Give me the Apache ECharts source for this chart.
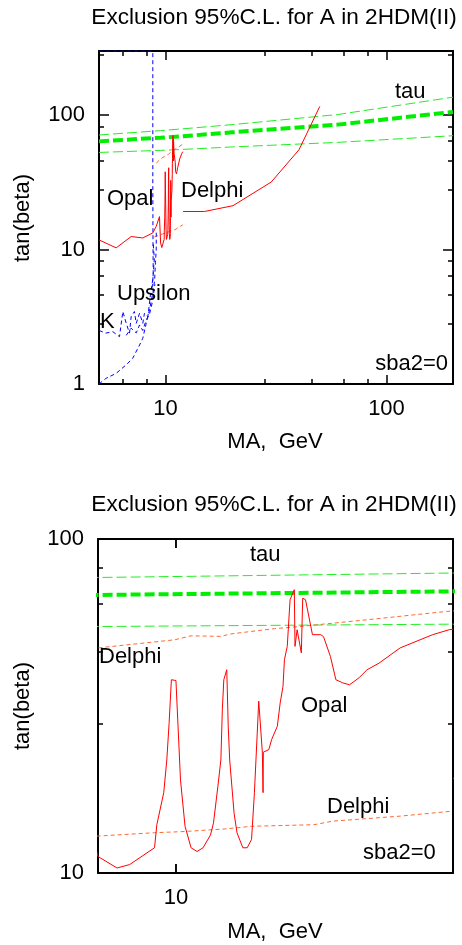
<!DOCTYPE html>
<html><head><meta charset="utf-8">
<script src="https://cdn.jsdelivr.net/npm/echarts@6/dist/echarts.min.js"></script>
<style>html,body{margin:0;padding:0;background:#fff}#c{width:462px;height:945px}</style>
</head><body><div id="c"></div>
<script>
// ---- data (MA in GeV, tan(beta)) ----
const tauUpper   = [[5,71.2],[9.5,76.7],[12,79.1],[20,85],[60,101],[200,136]];
const tauCentral = [[5,63.8],[9.5,68],[12,69.7],[20,74.5],[60,85],[200,105.6]];
const tauLower   = [[5,52.8],[9.5,54.7],[12,55.6],[20,58],[60,62.7],[200,70.3]];

const opal = [[5,11.8],[5.98,10.3],[6.99,12.5],[7.89,12.2],[8.76,13.3],[9.08,14.9],[9.39,17.6],
  [9.5,11.2],[9.62,10.35],[9.70,10.6],[9.86,11.9],[9.875,13.95],[9.92,17.4],[9.94,21.8],[9.955,28],
  [9.97,37.9],[9.98,38.4],[10.0,37.7],[10.03,19.0],[10.06,13.8],[10.1,11.9],[10.14,11.6],[10.18,11.9],
  [10.23,13.0],[10.25,14.1],[10.28,18.2],[10.3,21.8],[10.31,30.8],[10.32,37.9],[10.34,40.6],[10.35,27.5],
  [10.36,21.8],[10.39,15.1],[10.41,13.2],[10.45,11.9],[10.48,11.9],[10.51,12.6],[10.53,17.4],[10.56,32.7],
  [10.585,23],[10.59,17.4],[10.592,23],[10.63,23.4],[10.65,25.1],[10.69,27.5],[10.71,32.3],[10.73,36.2],
  [10.74,43.5],[10.76,47.7],[10.78,65.8],[10.81,70.5],[10.815,47.7],[10.83,53.5],[10.86,45.6],[10.87,66.5],
  [10.89,65.8],[10.94,51.7],[11.0,51.7],[11.02,51.0],[11.07,44.5],[11.11,37.9],[11.16,37.1],[11.21,36.6],
  [11.28,38.4],[11.34,40.6],[11.43,42.5],[11.59,47.2],[11.84,51.7],[11.97,53.5],[12.0,53.7]];

const delphiSolid = [[12,19.2],[15,19.2],[20.2,21.2],[30.1,31.8],[40.2,55.3],[49.9,116]];
const delphiUpper = [[9.08,44],[9.5,47.2],[9.99,49.9],[10.1,51.3],[10.3,51.1],[10.37,52],[10.67,53.9],
  [10.85,54.7],[11.34,57.3],[11.95,60.7],[12.05,61.1]];
const delphiLower = [[8.9,12.4],[9.5,12.9],[9.86,13.2],[10.04,13.3],[10.33,13.55],[10.51,13.8],[10.95,13.95],
  [11.09,14.3],[11.59,14.8],[11.98,15.3]];

const upsilonVertical = [[5,300],[8.76,300],[8.76,30],[8.78,10],[8.8,6.5],[8.7,5.2]];
const upsilonEnvelope = [[5,1.0],[5.37,1.1],[5.98,1.2],[6.64,1.39],[7.1,1.55],[7.63,1.95],[7.89,2.19],
  [8.18,2.83],[8.46,3.56],[8.76,4.74],[8.93,5.95],[9.0,8],[9.08,10],[9.08,14]];
const kaonA = [[5.0,2.5],[5.37,2.39],[5.77,2.45],[6.19,2.25],[6.41,3.46],[6.64,2.83],[6.87,2.39],[6.99,3.17],
  [7.23,3.46],[7.37,2.83],[7.63,3.36],[7.89,2.83],[8.03,3.36],[8.32,3.17],[8.46,4.0],[8.6,5.0],[8.76,6.0],
  [8.9,8.5],[8.8,11]];
const kaonB = [[6.64,2.3],[6.99,2.6],[7.37,2.4],[7.63,2.75],[7.89,2.5],[8.18,3.0],[8.46,3.3],[8.76,4.2],[8.95,5.5]];

// ---- axis ranges and tick labels ----
const topXRange = [5, 200];
const topYRange = [1, 300];
const botXRange = [9.5, 12];
const botYRange = [10, 100];
const topXLabels = [10, 100];
const topYLabels = [1, 10, 100];
const botXLabels = [10];
const botYLabels = [10, 100];
const botXTicks = [10];

const FONT = "'Liberation Sans', Arial, Helvetica, sans-serif";
const FS = 22;

function axisPair(kind, grid, range, labels, minor) {
  const pos = kind === 'x' ? ['bottom','top'] : ['left','right'];
  return pos.map((p, i) => ({
    type:'log', logBase:10, gridIndex:grid, min:range[0], max:range[1], position:p,
    splitLine:{show:false},
    axisLine:{show:true, onZero:false, lineStyle:{color:'#000', width:2}},
    axisTick:{show:true, inside:true, length: kind==='x'?9:10, lineStyle:{color:'#000', width:1.5}},
    minorTick:{show:minor, length:5, lineStyle:{color:'#000', width:1.5}},
    axisLabel:{show: i === 0, customValues: labels, margin:14, color:'#000', fontSize:FS, fontFamily:FONT}
  }));
}

const styles = {
  tauThin: {color:'#22ee22', width:1, type:[10,4]},
  tauThick:{color:'#00ee00', width:4, type:[10,4]},
  red:     {color:'#ff0000', width:1},
  orange:  {color:'#ff6a33', width:1, type:[4,3]},
  blue:    {color:'#0000ff', width:1, type:[4,3]}
};
const layers = [
  [tauUpper,'tauThin'],[tauCentral,'tauThick'],[tauLower,'tauThin'],
  [delphiUpper,'orange'],[delphiLower,'orange'],
  [upsilonVertical,'blue'],[upsilonEnvelope,'blue'],[kaonA,'blue'],[kaonB,'blue'],
  [opal,'red'],[delphiSolid,'red']
];
const series = [];
[0,1].forEach(g => {
  layers.forEach(([d, s]) => series.push({
    type:'line', data:d, xAxisIndex:g*2, yAxisIndex:g*2, showSymbol:false, symbol:'none',
    clip:true, silent:true, lineStyle:styles[s], z:3
  }));
});

function txt(t, x, y, align, rot, size) {
  return {type:'text', x:x, y:y, rotation: rot||0, z:100,
    style:{text:t, fill:'#000', fontSize:size||FS, fontFamily:FONT, align:align||'left', verticalAlign:'middle'}};
}
const graphics = [
  txt('Exclusion 95%C.L. for A in 2HDM(II)', 274, 18, 'center', 0, 22.6),
  txt('Exclusion 95%C.L. for A in 2HDM(II)', 274, 505, 'center', 0, 22.6),
  txt('tan(beta)', 22.5, 218, 'center', Math.PI/2),
  txt('tan(beta)', 22.5, 706, 'center', Math.PI/2),
  txt('MA,  GeV', 275, 442, 'center'),
  txt('MA,  GeV', 275, 932, 'center'),
  txt('tau', 395, 92),
  txt('Opal', 107, 199),
  txt('Delphi', 181, 191),
  txt('Upsilon', 117, 294),
  txt('K', 100, 322),
  txt('sba2=0', 448, 364, 'right'),
  txt('tau', 250, 555),
  txt('Delphi', 99, 657),
  txt('Opal', 301, 705.5),
  txt('Delphi', 327, 807),
  txt('sba2=0', 363, 853)
];

const chart = echarts.init(document.getElementById('c'), null, {renderer:'canvas'});
chart.setOption({
  backgroundColor:'#fff',
  animation:false,
  grid:[
    {left:99, top:51, width:354, height:333},
    {left:98, top:539, width:355, height:334}
  ],
  xAxis: axisPair('x',0,topXRange,topXLabels,true).concat(axisPair('x',1,botXRange,botXLabels,false)),
  yAxis: axisPair('y',0,topYRange,topYLabels,true).concat(axisPair('y',1,botYRange,botYLabels,true)),
  series: series,
  graphic: graphics
});

// bottom-panel x ticks, positioned through the axis scale
const tickLen = 9;
const tickGraphics = [];
botXTicks.forEach(v => {
  const b = chart.convertToPixel({xAxisIndex:2, yAxisIndex:2}, [v, botYRange[0]]);
  const t = chart.convertToPixel({xAxisIndex:2, yAxisIndex:2}, [v, botYRange[1]]);
  if (b && t) {
    tickGraphics.push({type:'line', z:50, shape:{x1:b[0], y1:b[1], x2:b[0], y2:b[1]-tickLen}, style:{stroke:'#000', lineWidth:1.5}});
    tickGraphics.push({type:'line', z:50, shape:{x1:t[0], y1:t[1], x2:t[0], y2:t[1]+tickLen}, style:{stroke:'#000', lineWidth:1.5}});
  }
});
chart.setOption({graphic: graphics.concat(tickGraphics)});
</script></body></html>
